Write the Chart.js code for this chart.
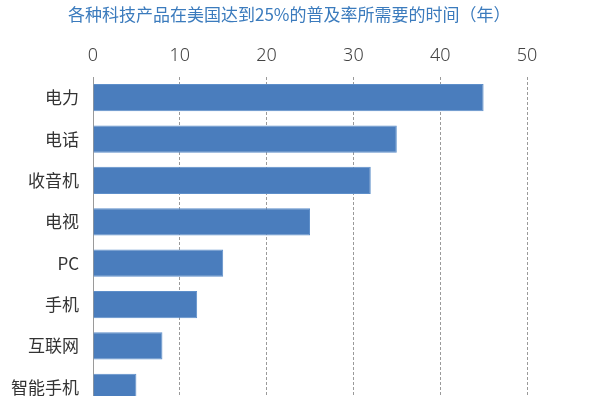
<!DOCTYPE html>
<html lang="zh">
<head>
  <meta charset="UTF-8" />
  <title>各种科技产品在美国达到25%的普及率所需要的时间</title>
  <script src="https://cdn.jsdelivr.net/npm/chart.js"></script>
  <style>
    body {
      margin: 0;
      background: #fff;
    }
    #frame {
      position: relative;
      width: 600px;
      height: 396px;
      overflow: hidden;
    }
    #title {
      position: absolute;
      left: 68px;
      top: 3px;
      font-family: "Noto Sans CJK SC", sans-serif;
      font-size: 17px;
      line-height: 22px;
      color: #3b7bbd;
      white-space: nowrap;
      z-index: 2;
    }
    #box {
      position: absolute;
      left: 0;
      top: 0;
      width: 600px;
      height: 408px;
    }
  </style>
</head>
<body>
  <div id="frame">
    <div id="title">各种科技产品在美国达到25%的普及率所需要的时间（年）</div>
    <div id="box"><canvas id="chart"></canvas></div>
  </div>

  <script>
    const products = ["电力", "电话", "收音机", "电视", "PC", "手机", "互联网", "智能手机"];
    const years = [45, 35, 32, 25, 15, 12, 8, 5];
    const xTicks = [0, 10, 20, 30, 40, 50];

    const ctx = document.getElementById("chart").getContext("2d");
    new Chart(ctx, {
      type: "bar",
      data: {
        labels: products,
        datasets: [{
          data: years,
          backgroundColor: "#4a7dbd",
          borderColor: "#5e8fca",
          borderWidth: 1,
          categoryPercentage: 1,
          barPercentage: 0.66
        }]
      },
      options: {
        indexAxis: "y",
        responsive: true,
        maintainAspectRatio: false,
        animation: false,
        layout: { padding: { left: 0, right: 73, top: 0, bottom: 0 } },
        plugins: {
          legend: { display: false },
          tooltip: { enabled: false }
        },
        scales: {
          x: {
            position: "top",
            min: 0,
            max: 50,
            afterFit: s => { s.height = 77; s.paddingLeft = 0; s.paddingRight = 0; },
            afterBuildTicks: s => { s.ticks = xTicks.map(v => ({ value: v })); },
            grid: {
              drawTicks: false,
              color: c => c.index === 0 ? "rgba(0,0,0,0)" : "#9a9a9a",
              lineWidth: 1
            },
            border: { display: false, dash: [3, 2] },
            ticks: {
              padding: 10,
              color: "#444",
              font: { family: "'Noto Sans', sans-serif", size: 18, weight: "300" }
            }
          },
          y: {
            afterFit: s => { s.width = 93; s.paddingTop = 0; s.paddingBottom = 0; },
            grid: { display: false, drawTicks: false },
            border: { display: true, color: "#9a9a9a", width: 1 },
            ticks: {
              padding: 14,
              color: "#333",
              font: { family: "'Noto Sans CJK SC', sans-serif", size: 17 }
            }
          }
        }
      }
    });
  </script>
</body>
</html>
